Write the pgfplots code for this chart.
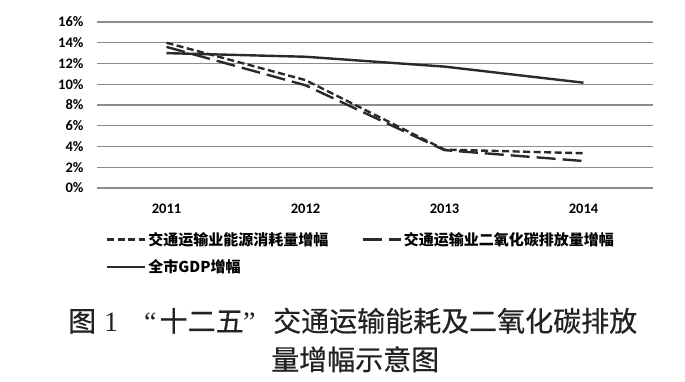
\documentclass[border=0pt]{standalone}
\usepackage{fontspec}
\setmainfont{Carlito}
\newfontfamily\cjk{Noto Sans CJK SC}
\newfontfamily\cjkcap[FakeBold=0.5]{Noto Sans CJK SC}
\newfontfamily\serifnum{Liberation Serif}
\usepackage{pgfplots}
\pgfplotsset{compat=1.18}
\usetikzlibrary{calc}
\definecolor{lineC}{HTML}{2A2A2A}
\definecolor{gridC}{HTML}{8C8C8C}
\definecolor{capC}{HTML}{222222}
\begin{document}
\begin{tikzpicture}[x=1pt,y=1pt]
\begin{axis}[
  name=ax, anchor=south west,
  width=556pt, height=166pt, scale only axis,
  xmin=-0.5, xmax=3.5, ymin=0, ymax=16,
  xtick={0,1,2,3}, xticklabels={2011,2012,2013,2014},
  ytick={0,2,...,16},
  yticklabel={\pgfmathprintnumber{\tick}\%},
  /pgf/number format/assume math mode=true,
  ymajorgrids, grid style={gridC, line width=1.2pt},
  axis line style={draw=none},
  major tick length=0pt,
  tick label style={font=\fontsize{14.5}{16}\selectfont\bfseries},
  xticklabel style={yshift=-12pt},
  yticklabel style={xshift=-10pt},
  legend columns=2,
  legend image code/.code={\draw[#1] (0pt,0pt) -- (38pt,0pt);},
  legend style={draw=none, fill=none, at={(0.0104,-0.24)}, anchor=north west,
    font=\cjk\bfseries\fontsize{15}{17}\selectfont,
    /tikz/every even column/.append style={column sep=31pt},
    row sep=9pt},
  legend cell align=left,
]
\addplot[lineC, line width=2.4pt, dash pattern=on 7pt off 3.5pt] coordinates {(0,14.0) (1,10.4) (2,3.7) (3,3.35)};
\addlegendentry{交通运输业能源消耗量增幅}
\addplot[lineC, line width=2.4pt, dash pattern=on 19pt off 7pt] coordinates {(0,13.6) (1,9.9) (2,3.65) (3,2.6)};
\addlegendentry{交通运输业二氧化碳排放量增幅}
\addplot[lineC, line width=2.4pt] coordinates {(0,13.0) (1,12.65) (2,11.7) (3,10.15)};
\addlegendentry{全市GDP增幅}
\end{axis}
\coordinate (O) at ($(ax.south west)+(-97,188)$);
\pgfresetboundingbox
\path[use as bounding box] (O) rectangle ($(O)+(685,-382)$);
\begin{scope}[shift={(O)}, every node/.style={inner sep=0pt, anchor=base west, text=capC, font=\cjkcap\fontsize{28}{30}\selectfont}]
\node at (68,-331.5) {图};
\node[font=\serifnum\fontsize{28}{30}\selectfont] at (104,-331.5) {1};
\node[font=\serifnum\fontsize{28}{30}\selectfont] at (144,-331.5) {“};
\node at (159.5,-331.5) {十二五};
\node[font=\serifnum\fontsize{28}{30}\selectfont] at (243,-331.5) {”};
\node at (273,-331.5) {交通运输能耗及二氧化碳排放};
\node at (271,-370) {量增幅示意图};
\end{scope}
\end{tikzpicture}
\end{document}
